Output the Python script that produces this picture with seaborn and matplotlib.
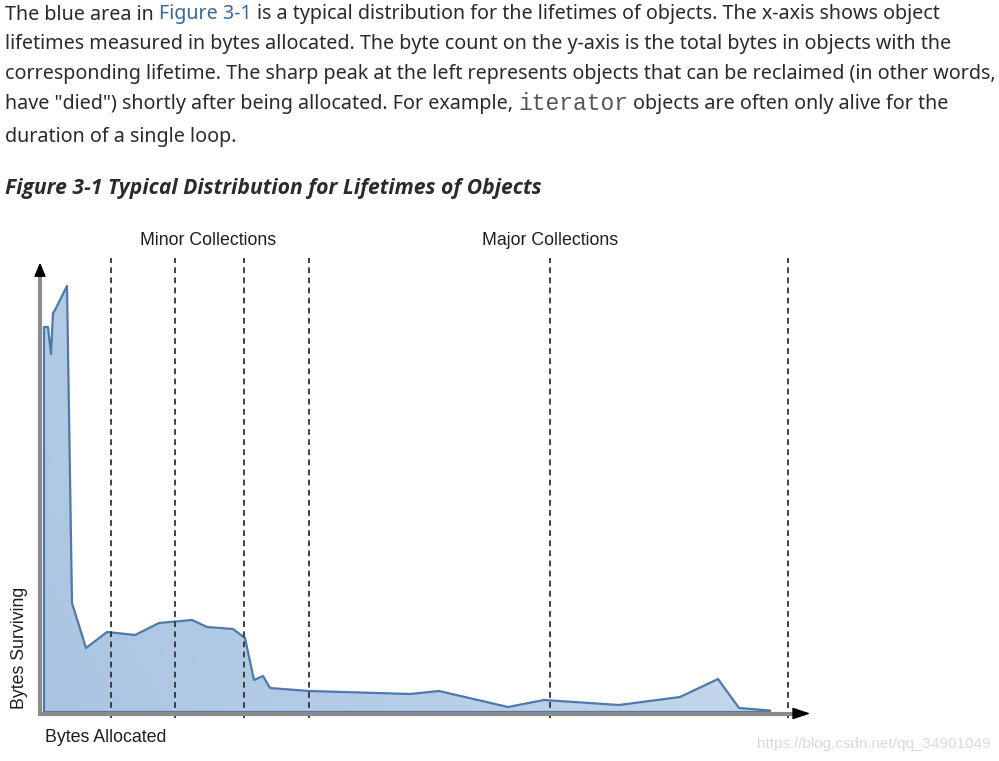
import matplotlib
matplotlib.use("Agg")
import matplotlib.pyplot as plt
import numpy as np
import pandas as pd
import seaborn as sns

# ---------------- data ----------------
bytes_allocated = [4, 8, 11, 13, 15, 27, 32, 46, 67, 95, 119, 152, 167, 193,
                   205, 214, 223, 230, 269, 370, 399, 468, 504, 579, 640,
                   678, 699, 730]
bytes_surviving = [385, 385, 358, 399, 402, 426, 109, 64, 80, 77, 89, 92, 85,
                   83, 74, 32, 36, 24, 21, 18, 21, 5, 12, 7, 15, 33, 4, 1.5]
minor_collections = [71, 135, 204, 269]
major_collections = [510, 748]

para_lines = [
    [("The blue area in", "t"), ("Figure 3-1", "link"),
     ("is a typical distribution for the lifetimes of objects. The x-axis shows object", "t")],
    [("lifetimes measured in bytes allocated. The byte count on the y-axis is the total bytes in objects with the", "t")],
    [("corresponding lifetime. The sharp peak at the left represents objects that can be reclaimed (in other words,", "t")],
    [("have \"died\") shortly after being allocated. For example,", "t"), ("iterator", "code"),
     ("objects are often only alive for the", "t")],
    [("duration of a single loop.", "t")],
]
caption = "Figure 3-1 Typical Distribution for Lifetimes of Objects"
minor_label = "Minor Collections"
major_label = "Major Collections"
y_label = "Bytes Surviving"
x_label = "Bytes Allocated"
watermark = "https://blog.csdn.net/qq_34901049"

# ---------------- figure ----------------
W, H = 999, 761
sns.set_theme(style="white")
plt.rcParams["font.family"] = ["Noto Sans", "DejaVu Sans"]
fig = plt.figure(figsize=(W / 100, H / 100), dpi=100)
fig.patch.set_facecolor("white")


def fp(x, y):
    return x / W, 1 - y / H


# chart axes: data units == pixels, origin at pixel (40, 712)
ox, oy = 40, 712
ax = fig.add_axes([ox / W, (H - oy) / H, 780 / W, 457 / H])

xs = [bytes_allocated[0]] + bytes_allocated + [bytes_allocated[-1]]
ys = [0] + bytes_surviving + [0]

# gradient fill clipped to area
poly = ax.fill_between(xs, ys, 0, color="none", lw=0)
gx = np.linspace(0, 1, 256)
gy = np.linspace(0, 1, 64)
GX, GY = np.meshgrid(gx, gy)
t = np.clip(0.75 * GX + 0.25 * GY, 0, 1)
c0 = np.array([0.665, 0.772, 0.886])
c1 = np.array([0.800, 0.863, 0.937])
img = c0[None, None, :] * (1 - t[..., None]) + c1[None, None, :] * t[..., None]
im = ax.imshow(img, extent=[0, 740, 0, 430], origin="lower", aspect="auto",
               zorder=2, interpolation="bilinear")
im.set_clip_path(poly.get_paths()[0], transform=ax.transData)

# outline
df = pd.DataFrame({"x": xs + [xs[0]], "y": ys + [ys[0]]})
sns.lineplot(data=df, x="x", y="y", sort=False, estimator=None, ax=ax,
             color="#4d79ad", lw=1.6, zorder=4)
ax.set_xlim(0, 780)
ax.set_ylim(0, 457)
ax.axis("off")

# dashed collection lines
for xv in minor_collections + major_collections:
    ax.plot([xv, xv], [-6, 454], color="#333333", lw=1.3,
            linestyle=(0, (3.2, 2.4)), zorder=5, clip_on=False)

# axes with arrows
ax.plot([0, 0], [-2, 446], color="#8c8c8c", lw=3.0, zorder=6, clip_on=False,
        solid_capstyle="butt")
ax.plot([-2, 764], [-1.5, -1.5], color="#8c8c8c", lw=3.0, zorder=6, clip_on=False,
        solid_capstyle="butt")
ax.annotate("", xy=(0, 452), xytext=(0, 440),
            arrowprops=dict(arrowstyle="-|>,head_length=0.7,head_width=0.3",
                            color="black", lw=1), zorder=7, annotation_clip=False)
ax.annotate("", xy=(773, -1.5), xytext=(760, -1.5),
            arrowprops=dict(arrowstyle="-|>,head_length=0.9,head_width=0.3",
                            color="black", lw=1), zorder=7, annotation_clip=False)

# ---------------- texts ----------------
renderer = fig.canvas.get_renderer()
body_kw = dict(fontsize=14.2, color="#2b2b2b", family=["Noto Sans", "DejaVu Sans"])
styles = {
    "t": body_kw,
    "link": dict(body_kw, color="#3369a9"),
    "code": dict(fontsize=16.5, color="#555555",
                 family=["Liberation Mono", "DejaVu Sans Mono"]),
}


def width_of(s, kw):
    tt = fig.text(0, 0, s, **kw)
    w = tt.get_window_extent(renderer=renderer).width
    tt.remove()
    return w


space_w = width_of("a a", body_kw) - width_of("aa", body_kw)
baselines = [19.5, 49.5, 79.5, 109.5, 142]
for parts, yb in zip(para_lines, baselines):
    x = 5
    for i, (s, st) in enumerate(parts):
        if i > 0:
            x += space_w
        tt = fig.text(*fp(x, yb), s, ha="left", va="baseline", **styles[st])
        x = tt.get_window_extent(renderer=renderer).x1

fig.text(*fp(5, 194), caption, ha="left", va="baseline", fontsize=15.2,
         fontweight="bold", fontstyle="italic", color="#2b2b2b",
         family=["Open Sans", "Noto Sans", "DejaVu Sans"])

lab_kw = dict(family=["Liberation Sans", "DejaVu Sans"], fontsize=12.8, color="#1e1e1e")
fig.text(*fp(208, 245), minor_label, ha="center", va="baseline", **lab_kw)
fig.text(*fp(550, 245), major_label, ha="center", va="baseline", **lab_kw)
fig.text(*fp(45, 742), x_label, ha="left", va="baseline", **lab_kw)
fig.text(*fp(20, 648), y_label, ha="center", va="center", rotation=90, **lab_kw)
fig.text(*fp(990, 748), watermark, ha="right", va="baseline",
         family=["Liberation Sans", "DejaVu Sans"], fontsize=11, color="#d9d9d9")

fig.savefig("out.png", dpi=100, facecolor="white")
